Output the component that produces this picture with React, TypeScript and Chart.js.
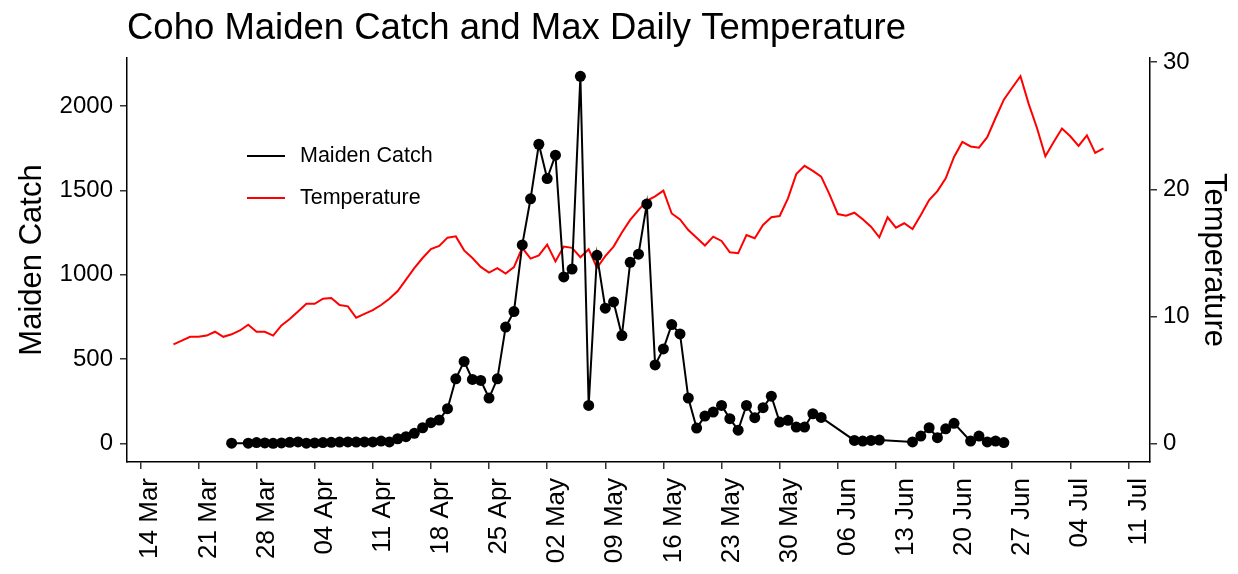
import React, { useEffect, useRef } from "react";
import { Chart, registerables } from "chart.js";

Chart.register(...registerables);

const FONT = '"Liberation Sans", Arial, sans-serif';

// x positions are days counted from 14 Mar
const xTickDays = [0, 7, 14, 21, 28, 35, 42, 49, 56, 63, 70, 77, 84, 91, 98, 105, 112, 119];
const xTickLabels = [
  "14 Mar", "21 Mar", "28 Mar", "04 Apr", "11 Apr", "18 Apr", "25 Apr", "02 May", "09 May",
  "16 May", "23 May", "30 May", "06 Jun", "13 Jun", "20 Jun", "27 Jun", "04 Jul", "11 Jul",
];
const catchTicks = [0, 500, 1000, 1500, 2000];
const tempTicks = [0, 10, 20, 30];

// Maiden catch (day offset from 14 Mar, fish count)
const catchDays = [
  11, 13, 14, 15, 16, 17, 18, 19, 20, 21, 22, 23, 24, 25, 26, 27, 28, 29, 30,
  31, 32, 33, 34, 35, 36, 37, 38, 39, 40, 41, 42, 43, 44, 45, 46, 47, 48, 49, 50,
  51, 52, 53, 54, 55, 56, 57, 58, 59, 60, 61, 62, 63, 64, 65, 66, 67, 68, 69, 70,
  71, 72, 73, 74, 75, 76, 77, 78, 79, 80, 81, 82, 86, 87, 88, 89, 93, 94, 95, 96,
  97, 98, 100, 101, 102, 103, 104,
];
const catchValues = [
  3, 3, 6, 4, 2, 4, 8, 10, 3, 4, 6, 8, 9, 10, 9, 10, 10, 15, 10,
  29, 41, 61, 94, 124, 140, 207, 384, 487, 380, 374, 270, 384, 690, 782, 1177, 1450, 1773, 1570, 1708,
  987, 1034, 2175, 226, 1115, 802, 839, 640, 1074, 1122, 1419, 466, 561, 705, 650, 270, 92, 163, 187, 226,
  148, 80, 226, 154, 213, 281, 128, 138, 98, 98, 177, 155, 19, 15, 19, 21, 10, 45, 94, 35,
  88, 120, 15, 45, 10, 15, 6,
];

// Max daily temperature, one value per day from 18 Mar (day 4) to 08 Jul (day 116)
const tempFirstDay = 4;
const tempValues = [
  7.8, 8.1, 8.4, 8.4, 8.5, 8.8, 8.4, 8.6, 8.9, 9.35, 8.8, 8.8, 8.5, 9.3, 9.8, 10.4, 11.0, 11.0, 11.4, 11.45,
  10.9, 10.8, 9.9, 10.2, 10.5, 10.9, 11.4, 12.0, 12.9, 13.8, 14.6, 15.3, 15.55, 16.2, 16.3, 15.2, 14.6, 13.9,
  13.45, 13.8, 13.37, 13.88, 15.4, 14.55, 14.8, 15.65, 14.33, 15.5, 15.4, 14.66, 15.29, 13.83, 14.75, 15.5,
  16.6, 17.6, 18.37, 19.1, 19.45, 19.9, 18.1, 17.63, 16.8, 16.2, 15.58, 16.28, 15.94, 15.05, 14.97, 16.41,
  16.15, 17.2, 17.8, 17.9, 19.29, 21.2, 21.85, 21.45, 21.0, 19.6, 18.06, 17.93, 18.16, 17.64, 17.06, 16.23,
  17.8, 16.98, 17.33, 16.88, 17.98, 19.16, 19.86, 20.86, 22.55, 23.73, 23.37, 23.28, 24.1, 25.61, 27.05,
  27.99, 28.9, 26.7, 24.8, 22.6, 23.73, 24.78, 24.17, 23.42, 24.25, 22.87, 23.23,
];

const SEC_FACTOR = 75.3;
const CATCH_MIN = -108.75;
const CATCH_MAX = 2283.75;

const legendPlugin = {
  id: "insideLegend",
  afterDraw(chart: any) {
    const { ctx } = chart;
    ctx.save();
    chart.data.datasets.forEach((ds: any, i: number) => {
      const y = 156 + i * 42;
      ctx.strokeStyle = ds.borderColor;
      ctx.lineWidth = 2;
      ctx.beginPath();
      ctx.moveTo(247, y);
      ctx.lineTo(285, y);
      ctx.stroke();
      ctx.fillStyle = "#000";
      ctx.font = `21.5px ${FONT}`;
      ctx.textBaseline = "middle";
      ctx.textAlign = "left";
      ctx.fillText(ds.label, 300, y);
    });
    ctx.restore();
  },
};

export default function App() {
  const ref = useRef<HTMLCanvasElement | null>(null);

  useEffect(() => {
    if (!ref.current) return;
    Chart.defaults.font.family = FONT;
    const catchData = catchDays.map((d, i) => ({ x: d, y: catchValues[i] }));
    const tempData = tempValues.map((v, i) => ({ x: tempFirstDay + i, y: v }));

    const axisGrid = {
      display: true,
      drawOnChartArea: false,
      drawTicks: true,
      tickLength: 7,
      color: "#333333",
      lineWidth: 1.5,
    };
    const axisBorder = { display: true, color: "#000000", width: 1.5 };
    const plain = (v: any) => String(v);

    const chart = new Chart(ref.current, {
      type: "line",
      data: {
        datasets: [
          {
            label: "Maiden Catch",
            data: catchData,
            borderColor: "#000000",
            backgroundColor: "#000000",
            borderWidth: 2,
            pointRadius: 5.5,
            pointBorderWidth: 0,
            pointBackgroundColor: "#000000",
            yAxisID: "y",
            order: 0,
          },
          {
            label: "Temperature",
            data: tempData,
            borderColor: "#FF0000",
            backgroundColor: "#FF0000",
            borderWidth: 2,
            pointRadius: 0,
            yAxisID: "y1",
            order: 1,
          },
        ],
      },
      options: {
        responsive: false,
        animation: false,
        devicePixelRatio: 1,
        layout: { padding: 0 },
        plugins: {
          legend: { display: false },
          tooltip: { enabled: false },
          title: {
            display: true,
            text: "Coho Maiden Catch and Max Daily Temperature",
            align: "start",
            fullSize: false,
            color: "#000000",
            font: { size: 36.5, weight: "normal", family: FONT, lineHeight: 1.2 },
            padding: { top: 7, bottom: 7.2 },
          },
        },
        scales: {
          x: {
            type: "linear",
            min: -1.6,
            max: 121.6,
            afterBuildTicks: (s: any) => {
              s.ticks = xTickDays.map((v) => ({ value: v }));
            },
            afterFit: (s: any) => {
              s.height = 112;
            },
            ticks: {
              autoSkip: false,
              maxRotation: 90,
              minRotation: 90,
              padding: 9,
              labelOffset: 10,
              color: "#000000",
              font: { size: 26, family: FONT },
              callback: (value: any) => {
                const i = xTickDays.indexOf(Number(value));
                return i >= 0 ? xTickLabels[i] : "";
              },
            },
            grid: axisGrid,
            border: axisBorder,
          },
          y: {
            type: "linear",
            position: "left",
            min: CATCH_MIN,
            max: CATCH_MAX,
            afterBuildTicks: (s: any) => {
              s.ticks = catchTicks.map((v) => ({ value: v }));
            },
            afterFit: (s: any) => {
              s.width = 127;
            },
            ticks: { color: "#000000", padding: 7, font: { size: 24, family: FONT }, callback: plain },
            grid: axisGrid,
            border: axisBorder,
            title: {
              display: true,
              text: "Maiden Catch",
              color: "#000000",
              font: { size: 31, family: FONT, lineHeight: 1.2 },
              padding: { top: 14, bottom: 0 },
            },
          },
          y1: {
            type: "linear",
            position: "right",
            min: CATCH_MIN / SEC_FACTOR,
            max: CATCH_MAX / SEC_FACTOR,
            afterBuildTicks: (s: any) => {
              s.ticks = tempTicks.map((v) => ({ value: v }));
            },
            afterFit: (s: any) => {
              s.width = 88;
            },
            ticks: { color: "#000000", padding: 6, font: { size: 24, family: FONT }, callback: plain },
            grid: axisGrid,
            border: axisBorder,
            title: {
              display: true,
              text: "Temperature",
              color: "#000000",
              font: { size: 31, family: FONT, lineHeight: 1.2 },
              padding: { top: 6, bottom: 0 },
            },
          },
        },
      },
      plugins: [legendPlugin],
    } as any);

    return () => chart.destroy();
  }, []);

  return (
    <div style={{ position: "absolute", left: 0, top: 0, width: 1238, height: 574, background: "#fff" }}>
      <canvas ref={ref} width={1238} height={574} />
    </div>
  );
}
